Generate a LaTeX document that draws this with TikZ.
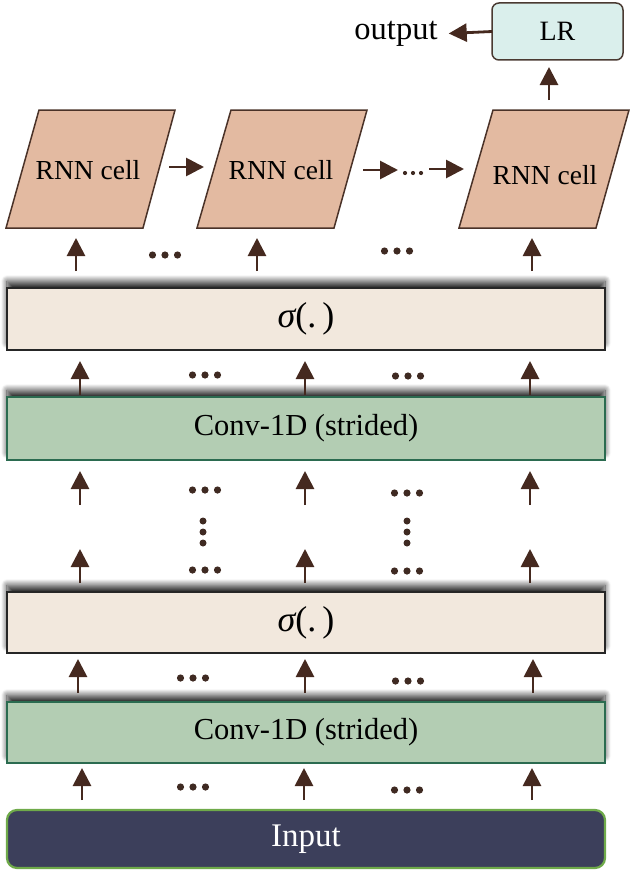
\documentclass[tikz,border=0pt]{standalone}
\usepackage{fontspec}
\setmainfont{Liberation Serif}
\usetikzlibrary{arrows.meta,shadows.blur}
\definecolor{arrowc}{HTML}{45291F}
\definecolor{dotc}{HTML}{3F2A22}
\definecolor{rnnfill}{HTML}{E3BAA1}
\definecolor{rnndraw}{HTML}{4A3228}
\definecolor{lrfill}{HTML}{DAEFEC}
\definecolor{lrdraw}{HTML}{4A3A32}
\definecolor{sigfill}{HTML}{F2E8DD}
\definecolor{sigdraw}{HTML}{262626}
\definecolor{convfill}{HTML}{B3CDB3}
\definecolor{convdraw}{HTML}{2B6B50}
\definecolor{infill}{HTML}{3C3F5B}
\definecolor{indraw}{HTML}{6FAA4A}
\tikzset{
  arr/.style={draw=arrowc, line width=2.8pt, -{Triangle[length=18pt,width=18pt]}},
  shadowed/.style={blur shadow={shadow xshift=0pt, shadow yshift=7pt, shadow blur radius=6pt, shadow opacity=80, shadow blur steps=12}},
  layerbox/.style={rectangle, minimum width=598pt, inner sep=0pt, outer sep=0pt},
  sigbox/.style={layerbox, shadowed, fill=sigfill, draw=sigdraw, line width=2pt, font=\fontsize{36}{38}\selectfont},
  convbox/.style={layerbox, shadowed, fill=convfill, draw=convdraw, line width=1.6pt, font=\fontsize{30.5}{32}\selectfont},
  inbox/.style={layerbox, rounded corners=10pt, fill=infill, draw=indraw, line width=2.2pt, text=white, font=\fontsize{33}{35}\selectfont},
  rnnshape/.style={fill=rnnfill, draw=rnndraw, line width=1.5pt, line join=miter},
  rnntext/.style={inner sep=0pt, font=\fontsize{27.5}{29}\selectfont},
  hdots/.pic={\foreach \i in {-1,0,1} \fill[dotc] (\i*12.5,0) circle (3.6pt);},
  vdots/.pic={\foreach \i in {-1,0,1} \fill[dotc] (0,\i*11) circle (3.5pt);},
  sdots/.pic={\foreach \i in {-1,0,1} \fill[dotc] (\i*8,0) circle (2.1pt);}
}
\begin{document}
\begin{tikzpicture}[x=1pt,y=-1pt]
\useasboundingbox (0,0) rectangle (638,875);

% LR and output
\node[rectangle, rounded corners=7pt, fill=lrfill, draw=lrdraw, line width=1.5pt,
      minimum width=131pt, minimum height=57pt, inner sep=0pt, outer sep=0pt,
      font=\fontsize{28}{30}\selectfont] (lr) at (557.5,31.5) {LR};
\node[inner sep=0pt, font=\fontsize{32.5}{34}\selectfont] (out) at (396,34) {output};

% RNN cells
\draw[rnnshape] (39,110) -- (175,110) -- (143,228) -- (6,228) -- cycle;
\draw[rnnshape] (231,110) -- (367,110) -- (334,228) -- (197,228) -- cycle;
\draw[rnnshape] (493,110) -- (629,110) -- (596,228) -- (459,228) -- cycle;
\node[rnntext] (rnn1) at (88,170) {RNN cell};
\node[rnntext] (rnn2) at (281,170) {RNN cell};
\node[rnntext] (rnn3) at (545,175) {RNN cell};
\coordinate (rnnbase) at (0,228);
\coordinate (rnntop) at (0,110);

% layer boxes
\node[sigbox, minimum height=62pt] (sig1) at (306,319) {{\itshape σ}(.\,)};
\node[convbox, minimum height=63pt] (conv1) at (306,428.5) {Conv-1D (strided)};
\node[sigbox, minimum height=61pt] (sig2) at (306,622.5) {{\itshape σ}(.\,)};
\node[convbox, minimum height=61pt] (conv2) at (306,732.5) {Conv-1D (strided)};
\node[inbox, minimum height=58pt] (input) at (306,839) {Input};

% top connectors
\draw[arr, shorten >=11pt] (lr.west) -- (out.east);
\coordinate (lrcol) at (549,0);
\draw[arr, shorten <=10pt, shorten >=7pt] (rnntop -| lrcol) -- (lr.south -| lrcol);

\coordinate (h1a) at (169,167); \coordinate (h1b) at (204,167);
\coordinate (h2a) at (363,170); \coordinate (h2b) at (398,170);
\coordinate (h3a) at (429,169); \coordinate (h3b) at (464,169);
\draw[arr] (h1a) -- (h1b);
\draw[arr] (h2a) -- (h2b);
\draw[arr] (h3a) -- (h3b);
\pic at (413,173) {sdots};

% row A: sigma1 -> RNN
\foreach \x in {76,257,532} {
  \coordinate (cA\x) at (\x,0);
  \draw[arr, shorten <=17pt, shorten >=10pt] (sig1.north -| cA\x) -- (rnnbase -| cA\x);
}
\pic at (165,255) {hdots};
\pic at (397,251) {hdots};

% row B: conv1 -> sigma1
\foreach \x in {80,305,530} {
  \coordinate (cB\x) at (\x,0);
  \draw[arr, shorten <=2pt, shorten >=11pt] (conv1.north -| cB\x) -- (sig1.south -| cB\x);
}
\pic at (205,375) {hdots};
\pic at (408,376) {hdots};

% rows C and D: free arrows
\foreach \x in {80,305,530} {
  \coordinate (cC\x a) at (\x,505); \coordinate (cC\x b) at (\x,471);
  \draw[arr] (cC\x a) -- (cC\x b);
  \coordinate (cD\x a) at (\x,583); \coordinate (cD\x b) at (\x,549);
  \draw[arr] (cD\x a) -- (cD\x b);
}
\pic at (205,490) {hdots};
\pic at (407,493) {hdots};
\pic at (203,532) {vdots};
\pic at (407,532) {vdots};
\pic at (205,570) {hdots};
\pic at (407,571) {hdots};

% row E: conv2 -> sigma2
\foreach \x in {78,305,533} {
  \coordinate (cE\x) at (\x,0);
  \draw[arr, shorten <=9pt, shorten >=6pt] (conv2.north -| cE\x) -- (sig2.south -| cE\x);
}
\pic at (193,678) {hdots};
\pic at (408,681) {hdots};

% row F: input -> conv2
\foreach \x in {82,304,532} {
  \coordinate (cF\x) at (\x,0);
  \draw[arr, shorten <=10pt, shorten >=5pt] (input.north -| cF\x) -- (conv2.south -| cF\x);
}
\pic at (193,787) {hdots};
\pic at (407,790) {hdots};
\end{tikzpicture}
\end{document}
